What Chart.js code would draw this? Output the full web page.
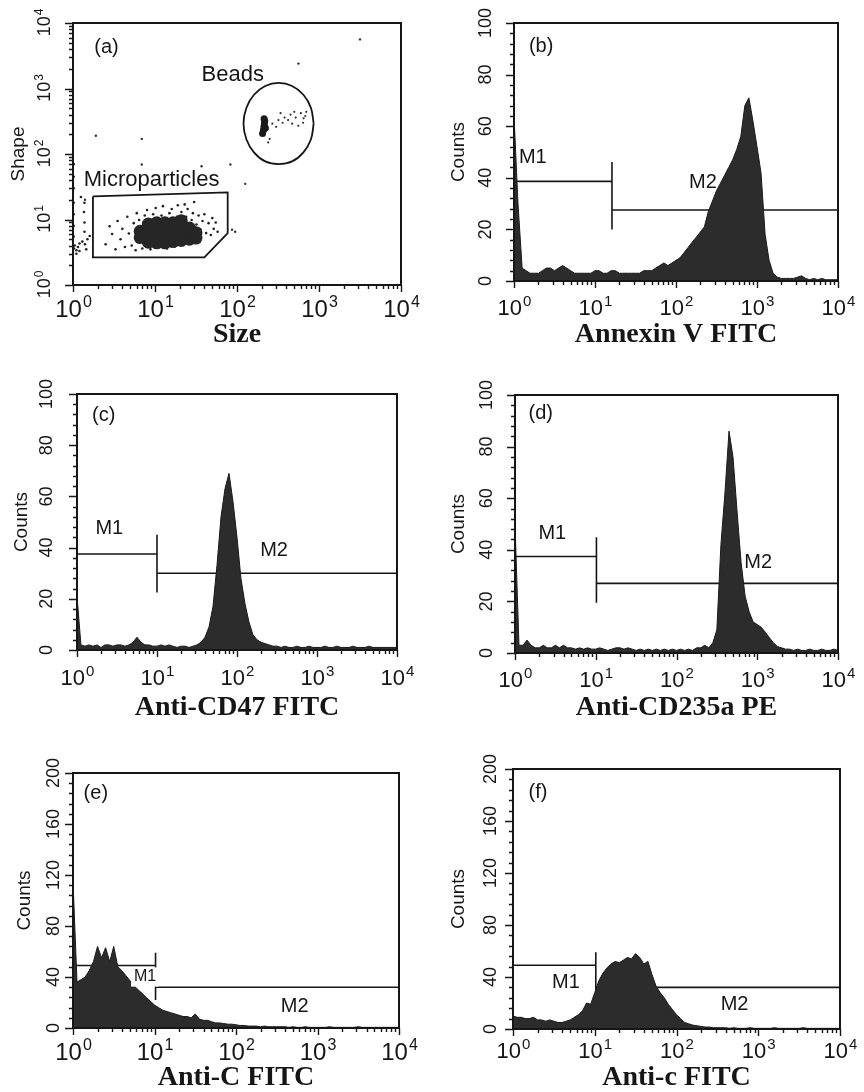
<!DOCTYPE html>
<html>
<head>
<meta charset="utf-8">
<script src="https://cdn.jsdelivr.net/npm/chart.js@4.4.1/dist/chart.umd.min.js"></script>
<style>
  html, body { margin: 0; padding: 0; background: #fff; }
  #fig { position: relative; width: 864px; height: 1092px; overflow: hidden; }
  #fig canvas { position: absolute; }
</style>
</head>
<body>
<div id="fig">
  <canvas id="pa"></canvas>
  <canvas id="pb"></canvas>
  <canvas id="pc"></canvas>
  <canvas id="pd"></canvas>
  <canvas id="pe"></canvas>
  <canvas id="pf"></canvas>
</div>
<script>
// channel positions (20 per decade) shared by all histograms
const channels = [
  1, 1.12, 1.26, 1.41, 1.58, 1.78, 2, 2.24, 2.51, 2.82, 3.16, 3.55, 3.98, 4.47, 5.01, 5.62, 6.31, 7.08, 7.94, 8.91,
  10, 11.2, 12.6, 14.1, 15.8, 17.8, 20, 22.4, 25.1, 28.2, 31.6, 35.5, 39.8, 44.7, 50.1, 56.2, 63.1, 70.8, 79.4, 89.1,
  100, 112, 126, 141, 158, 178, 200, 224, 251, 282, 316, 355, 398, 447, 501, 562, 631, 708, 794, 891,
  1000, 1120, 1260, 1410, 1580, 1780, 2000, 2240, 2510, 2820, 3160, 3550, 3980, 4470, 5010, 5620, 6310, 7080, 7940, 8910, 10000
];

// (b) Annexin V FITC
const countsB = [
  64, 30, 5, 4, 3, 3, 3, 4, 5, 5, 4, 5, 6, 5, 4, 3, 3, 3, 3, 3,
  4, 4, 3, 3, 4, 4, 3, 3, 3, 3, 3, 3, 4, 4, 4, 5, 6, 7, 6, 7,
  8, 9, 11, 13, 15, 17, 19, 21, 27, 31, 35, 38, 41, 44, 47, 51, 56, 68, 71, 62,
  52, 42, 18, 8, 3, 1.5, 1, 1, 1, 1, 1.5, 2, 1, 0.5, 1, 0.5, 1, 0.5, 0.5, 0.5, 0.5
];
// (c) Anti-CD47 FITC
const countsC = [
  21, 2, 1.5, 2, 1.5, 2, 1, 2, 2, 1.5, 2, 2, 1.5, 2, 3, 5, 3, 2, 2, 1.5,
  1.5, 2, 1.5, 2, 1.5, 1, 1.5, 1.5, 1, 1.5, 2, 3, 5, 9, 17, 33, 52, 63, 69, 58,
  44, 28, 18, 11, 6, 4, 3, 2.5, 2, 1.5, 1.5, 1, 1.5, 1, 1, 1.5, 1, 1, 1.5, 1,
  1, 1, 1.5, 1, 1, 1.5, 1, 1, 1, 1.5, 1, 1, 1, 1.5, 1, 1, 1, 1, 1, 1, 1
];
// (d) Anti-CD235a PE
const countsD = [
  50, 3, 3, 5, 3, 2, 2, 3, 2, 2, 3, 2, 3, 2, 2, 1.5, 2, 1.5, 2, 1.5,
  1.5, 2, 1.5, 1, 1.5, 2, 2, 1.5, 2, 1.5, 1, 1.5, 1, 1.5, 1, 1.5, 1, 1.5, 1, 1.5,
  1, 1.5, 1, 1.5, 1, 2, 2, 3, 2, 4, 9, 42, 62, 86, 76, 55, 35, 22, 16, 12,
  11, 10, 8, 6, 4, 2.5, 2, 1.5, 1.5, 1, 1.5, 1, 1, 1.5, 1, 1, 1.5, 1, 1, 1.5, 1
];
// (e) Anti-C FITC
const countsE = [
  115, 36, 38, 40, 45, 52, 64, 55, 63, 52, 64, 48, 45, 41, 37, 33, 30, 27, 24, 21,
  18, 16, 14, 13, 12, 11, 10, 9, 9, 8, 11, 7, 6, 6, 5, 4, 4, 3.5, 3, 3,
  2.5, 2, 2, 1.5, 1.5, 1.5, 1, 1.5, 1, 1, 1, 1, 1, 0.5, 1, 0.5, 0.5, 1, 0.5, 0.5,
  0.5, 0.5, 0.5, 1, 0.5, 0.5, 0.5, 0.5, 0.5, 0.5, 1, 0.5, 0.5, 0.5, 0.5, 0.5, 0.5, 0.5, 0.5, 0.5, 0.5
];
// (f) Anti-c FITC
const countsF = [
  10, 9, 9, 8, 8, 9, 7, 7, 6, 7, 6, 5, 5, 6, 7, 9, 11, 14, 20, 19,
  28, 37, 43, 47, 50, 52, 51, 53, 55, 54, 58, 55, 50, 52, 42, 33, 28, 24, 19, 15,
  11, 8, 5, 4, 3, 2.5, 2, 1.5, 1.5, 1, 1, 1, 1, 0.5, 1, 0.5, 0.5, 0.5, 1, 0.5,
  0.5, 0.5, 0.5, 0.5, 1, 0.5, 0.5, 0.5, 0.5, 0.5, 0.5, 1, 0.5, 0.5, 0.5, 0.5, 0.5, 0.5, 0.5, 0.5, 0.5
];

// marker regions: [from, to, level]
const markersB = [[1, 16.2, 38.6], [16.2, 10000, 27.5]];
const markersC = [[1, 10, 37.5], [10, 10000, 30]];
const markersD = [[1, 10.2, 37.4], [10.2, 10000, 27]];
const markersE = [[1, 10.3, 49], [10.3, 10000, 32]];
const markersF = [[1, 10.3, 49], [10.3, 10000, 32]];

// in-plot text: [text, x, y]
const notesA = [['(a)', 1.82, 4170], ['Beads', 37, 1620], ['Microparticles', 1.35, 40.7]];
const notesB = [['(b)', 1.53, 91], ['M1', 1.15, 48], ['M2', 145, 38]];
const notesC = [['(c)', 1.54, 91.5], ['M1', 1.7, 47.6], ['M2', 195, 39]];
const notesD = [['(d)', 1.47, 93], ['M1', 1.95, 46.5], ['M2', 692, 35]];
const notesE = [['(e)', 1.35, 184], ['M1', 5.6, 40], ['M2', 355, 16.5]];
const notesF = [['(f)', 1.55, 182], ['M1', 3.0, 36], ['M2', 347, 18.5]];

// axis ticks
const decadeTicks = [1, 10, 100, 1000, 10000];
const countTicks100 = [0, 20, 40, 60, 80, 100];
const countTicks200 = [0, 40, 80, 120, 160, 200];

// (a) size / shape dot plot
const mpCore = [
  [6.6, 5.3], [6.6, 6.6], [8.3, 4.5], [8.3, 5.6], [8.3, 7.1], [8.3, 8.5],
  [10.5, 4.4], [10.5, 5.6], [10.5, 7.1], [10.5, 8.9], [13.2, 4.4], [13.2, 5.6],
  [13.2, 7.1], [13.2, 8.9], [16.6, 4.6], [16.6, 5.6], [16.6, 7.1], [16.6, 8.9],
  [20.9, 4.8], [20.9, 6.0], [20.9, 7.6], [20.9, 9.6], [26.3, 5.0], [26.3, 6.3],
  [26.3, 7.4], [31.6, 5.2], [31.6, 6.3]
];
const mpSparse = [
  [2.5, 4.2], [2.8, 7.9], [3.0, 6.0], [3.3, 3.5], [3.5, 9.5], [3.8, 5.0], [4.0, 7.2], [4.3, 3.8],
  [4.6, 11], [4.8, 6.1], [5.2, 4.0], [5.5, 8.8], [5.8, 3.4], [6.0, 12.5], [6.4, 9.8], [7.0, 3.6],
  [7.5, 11.5], [8.0, 14], [8.8, 3.5], [9.5, 12], [10.2, 15], [11, 3.8], [12, 11.5], [12.5, 16],
  [14, 3.6], [15, 12.5], [16, 14.5], [17.5, 3.9], [18.5, 11], [19, 16.5], [21, 13], [22, 4.1],
  [23, 17], [24, 11], [25, 14.5], [27, 4.3], [28, 9.8], [29, 12.5], [30, 18.5], [32, 8.4],
  [34, 11.5], [35, 4.6], [36, 7.0], [38, 9.5], [40, 12], [42, 6.2], [45, 8.8], [48, 5.8],
  [50, 10.5], [52, 7.2], [55, 9], [58, 6.5]
];
const edgeEvents = [
  [1.0, 3.2], [1.03, 3.6], [1.05, 4.0], [1.1, 3.4], [1.15, 3.8], [1.2, 4.3], [1.3, 4.6], [1.4, 4.2],
  [1.5, 5.0], [1.6, 5.6], [1.45, 3.5], [1.1, 3.0], [1.2, 3.3], [1.02, 5.5], [1.02, 8], [1.02, 12],
  [1.02, 18], [1.02, 30], [1.02, 45], [1.02, 70], [1.38, 6.5], [1.38, 9], [1.36, 13], [1.38, 18], [1.25, 22]
];
const beadCore = [[205, 205], [210, 230], [213, 260], [216, 290], [218, 320], [214, 345], [222, 250]];
const beadSparse = [
  [240, 150], [250, 170], [270, 290], [300, 260], [320, 330], [340, 420], [360, 300], [380, 360],
  [420, 330], [450, 400], [470, 290], [500, 440], [520, 360], [560, 270], [600, 420], [640, 300],
  [650, 350], [680, 380], [700, 440]
];
const strayEvents = [
  [3162, 5623], [562, 2400], [1.9, 190], [6.9, 170], [6.9, 69], [37, 65], [83, 69], [126, 35],
  [87, 7], [95, 6.5], [1.4, 20]
];
const mpGate = [[1.75, 22.5], [77, 26], [77, 6.2], [40, 2.65], [1.75, 2.65], [1.75, 22.5]];
const beadGate = [
  [861, 291], [798, 504], [646, 802], [470, 1094], [322, 1219], [221, 1094], [161, 802], [130, 504],
  [120, 291], [130, 168], [161, 106], [221, 77], [322, 70], [470, 77], [646, 106], [798, 168], [861, 291]
];

const ink = '#161616';
const sans = '"Liberation Sans", Arial, Helvetica, sans-serif';
const serif = '"Liberation Serif", "Times New Roman", serif';

function logTicks(majors) {
  const out = [];
  majors.forEach((m, i) => {
    out.push({ value: m, major: true });
    if (i < majors.length - 1) {
      for (let k = 2; k <= 9; k++) out.push({ value: k * m, major: false });
    }
  });
  return out;
}

function linTicks(majors) {
  const out = [];
  majors.forEach((m, i) => {
    out.push({ value: m, major: true });
    if (i < majors.length - 1) {
      const step = (majors[i + 1] - m) / 5;
      for (let k = 1; k < 5; k++) out.push({ value: m + k * step, major: false });
    }
  });
  return out;
}

const toPoints = arr => arr.map(([x, y]) => ({ x, y }));

// horizontal gate line with end bars, gaps between pieces
function markerPath(markers, half) {
  const pts = [];
  markers.forEach(([from, to, level]) => {
    pts.push({ x: from, y: level - half }, { x: from, y: level + half }, { x: from, y: null },
             { x: from, y: level }, { x: to, y: level }, { x: to, y: null },
             { x: to, y: level - half }, { x: to, y: level + half }, { x: to, y: null });
  });
  return pts;
}

function drawPower(ctx, cx, base, exp, size) {
  const small = Math.round(size * 0.68);
  ctx.font = `${size}px ${sans}`;
  const w1 = ctx.measureText('10').width;
  ctx.font = `${small}px ${sans}`;
  const w2 = ctx.measureText(exp).width;
  const left = cx - (w1 + w2) / 2;
  ctx.textAlign = 'left';
  ctx.textBaseline = 'alphabetic';
  ctx.font = `${size}px ${sans}`;
  ctx.fillText('10', left, base);
  ctx.font = `${small}px ${sans}`;
  ctx.fillText(exp, left + w1 + 1, base - size * 0.42);
}

// plot frame, tick marks, tick labels and in-plot text
const flowFrame = {
  id: 'flowFrame',
  afterDatasetsDraw(chart, args, o) {
    const { ctx, chartArea: a } = chart;
    const xs = chart.scales.x, ys = chart.scales.y;
    ctx.save();
    ctx.strokeStyle = ink;
    ctx.fillStyle = ink;

    ctx.lineWidth = 1.4;
    ctx.beginPath();
    xs.ticks.forEach(t => {
      const px = Math.round(xs.getPixelForValue(t.value)) + 0.5;
      ctx.moveTo(px, a.bottom);
      ctx.lineTo(px, a.bottom + (t.major ? 7 : 4));
    });
    ys.ticks.forEach(t => {
      const py = Math.round(ys.getPixelForValue(t.value)) + 0.5;
      ctx.moveTo(a.left, py);
      ctx.lineTo(a.left - (t.major ? 8 : 4), py);
    });
    ctx.stroke();

    ctx.lineWidth = 2;
    ctx.strokeRect(a.left, a.top, a.right - a.left, a.bottom - a.top);

    xs.ticks.filter(t => t.major).forEach(t => {
      drawPower(ctx, xs.getPixelForValue(t.value), a.bottom + o.xDrop,
                String(Math.round(Math.log10(t.value))), o.xSize);
    });

    ys.ticks.filter(t => t.major).forEach(t => {
      ctx.save();
      ctx.translate(a.left - o.yGap, ys.getPixelForValue(t.value));
      ctx.rotate(-Math.PI / 2);
      if (o.yLog) {
        drawPower(ctx, 0, o.ySize * 0.36, String(Math.round(Math.log10(t.value))), o.ySize);
      } else {
        ctx.font = `${o.ySize}px ${sans}`;
        ctx.textAlign = 'center';
        ctx.textBaseline = 'middle';
        ctx.fillText(String(t.value), 0, 0);
      }
      ctx.restore();
    });

    o.notes.forEach(([text, x, y]) => {
      const st = (o.noteStyle && o.noteStyle[text]) || {};
      const size = st.size || o.noteSize;
      const px = xs.getPixelForValue(x), py = ys.getPixelForValue(y);
      ctx.font = `${size}px ${sans}`;
      ctx.textAlign = 'left';
      ctx.textBaseline = 'middle';
      if (st.boxed) {
        const w = ctx.measureText(text).width;
        ctx.fillStyle = '#fff';
        ctx.fillRect(px - 3, py - size * 0.6, w + 5, size * 1.2);
        ctx.fillStyle = ink;
      }
      ctx.fillText(text, px, py);
    });
    ctx.restore();
  }
};

function baseOptions(p, yScale) {
  const [cl, ct, cw, ch] = p.canvas;
  const [pl, pt, pr, pb] = p.plot;
  return {
    responsive: false,
    animation: false,
    events: [],
    layout: { padding: { top: pt - ct, right: cl + cw - pr, bottom: 0, left: 0 }, autoPadding: false },
    plugins: {
      legend: { display: false },
      tooltip: { enabled: false },
      flowFrame: {
        xDrop: p.xDrop, xSize: p.xSize, yGap: p.yGap, ySize: p.ySize, yLog: p.yLog,
        notes: p.notes, noteSize: p.noteSize, noteStyle: p.noteStyle
      }
    },
    scales: {
      x: {
        type: 'logarithmic', min: 1, max: 10000,
        afterBuildTicks: s => { s.ticks = logTicks(decadeTicks); },
        afterFit: s => { s.height = ct + ch - pb; },
        grid: { display: false }, border: { display: false }, ticks: { display: false },
        title: {
          display: true, text: p.xTitle, color: ink,
          font: { family: serif, weight: 'bold', size: 28, lineHeight: 1 },
          padding: { top: 0, bottom: p.xTitlePad }
        }
      },
      y: Object.assign({}, yScale, {
        afterFit: s => { s.width = pl - cl; },
        grid: { display: false }, border: { display: false }, ticks: { display: false },
        title: {
          display: true, text: p.yTitle, color: ink,
          font: { family: sans, size: 19, lineHeight: 1 },
          padding: { top: p.yTitlePad, bottom: 0 }
        }
      })
    }
  };
}

function placeCanvas(p) {
  const el = document.getElementById(p.id);
  const [cl, ct, cw, ch] = p.canvas;
  el.width = cw;
  el.height = ch;
  el.style.left = cl + 'px';
  el.style.top = ct + 'px';
  return el;
}

function histChart(p) {
  const el = placeCanvas(p);
  const top = p.yTicks[p.yTicks.length - 1];
  return new Chart(el, {
    type: 'line',
    data: {
      datasets: [
        {
          data: channels.map((c, i) => ({ x: c, y: p.counts[i] })),
          fill: 'origin',
          backgroundColor: '#2c2c2c',
          borderColor: '#1a1a1a',
          borderWidth: 1,
          pointRadius: 0,
          tension: 0
        },
        {
          data: markerPath(p.markers, p.half),
          borderColor: ink,
          borderWidth: 1.6,
          pointRadius: 0,
          fill: false,
          spanGaps: false,
          tension: 0
        }
      ]
    },
    options: baseOptions(p, {
      type: 'linear', min: 0, max: top,
      afterBuildTicks: s => { s.ticks = linTicks(p.yTicks); }
    }),
    plugins: [flowFrame]
  });
}

// (a) dot plot
const pA = {
  id: 'pa', canvas: [0, 0, 432, 360], plot: [73, 23, 401, 285],
  xTitle: 'Size', xTitlePad: 11, yTitle: 'Shape', yTitlePad: 9.5,
  xSize: 24, xDrop: 32, ySize: 18, yGap: 29, yLog: true,
  notes: notesA, noteSize: 22, noteStyle: { '(a)': { size: 20 } }
};
const dots = (arr, r, color) => ({
  data: toPoints(arr), pointRadius: r, pointBackgroundColor: color,
  pointBorderWidth: 0, showLine: false
});
const gate = (arr, tension) => ({
  data: toPoints(arr), showLine: true, borderColor: ink, borderWidth: 1.8,
  pointRadius: 0, fill: false, tension
});
new Chart(placeCanvas(pA), {
  type: 'scatter',
  data: {
    datasets: [
      dots(mpCore, 6.5, '#262626'),
      dots(mpSparse, 1.3, '#222'),
      dots(edgeEvents, 1.3, '#222'),
      dots(beadCore, 3.5, '#1a1a1a'),
      dots(beadSparse, 1.1, '#333'),
      dots(strayEvents, 1.2, '#333'),
      gate(mpGate, 0),
      gate(beadGate, 0.4)
    ]
  },
  options: baseOptions(pA, {
    type: 'logarithmic', min: 1, max: 10000,
    afterBuildTicks: s => { s.ticks = logTicks(decadeTicks); }
  }),
  plugins: [flowFrame]
});

histChart({
  id: 'pb', canvas: [432, 0, 432, 360], plot: [514, 23, 838, 281],
  counts: countsB, markers: markersB, half: 7.5, yTicks: countTicks100,
  xTitle: 'Annexin V FITC', xTitlePad: 11, yTitle: 'Counts', yTitlePad: 17.5,
  xSize: 22, xDrop: 34, ySize: 18, yGap: 28, notes: notesB, noteSize: 20
});
histChart({
  id: 'pc', canvas: [0, 360, 432, 375], plot: [77, 394, 397, 650],
  counts: countsC, markers: markersC, half: 7.5, yTicks: countTicks100,
  xTitle: 'Anti-CD47 FITC', xTitlePad: 13, yTitle: 'Counts', yTitlePad: 12.5,
  xSize: 22, xDrop: 35, ySize: 18, yGap: 29.5, notes: notesC, noteSize: 20
});
histChart({
  id: 'pd', canvas: [432, 360, 432, 375], plot: [515, 395, 838, 653],
  counts: countsD, markers: markersD, half: 7.5, yTicks: countTicks100,
  xTitle: 'Anti-CD235a PE', xTitlePad: 13, yTitle: 'Counts', yTitlePad: 17.5,
  xSize: 22, xDrop: 34, ySize: 18, yGap: 28, notes: notesD, noteSize: 20
});
histChart({
  id: 'pe', canvas: [0, 730, 432, 362], plot: [73, 773, 399, 1028],
  counts: countsE, markers: markersE, half: 10, yTicks: countTicks200,
  xTitle: 'Anti-C FITC', xTitlePad: 0, yTitle: 'Counts', yTitlePad: 15.5,
  xSize: 24, xDrop: 32, ySize: 18, yGap: 19, notes: notesE, noteSize: 20,
  noteStyle: { M1: { size: 16, boxed: true } }
});
histChart({
  id: 'pf', canvas: [432, 730, 432, 362], plot: [513, 769, 840, 1029],
  counts: countsF, markers: markersF, half: 10, yTicks: countTicks200,
  xTitle: 'Anti-c FITC', xTitlePad: 0, yTitle: 'Counts', yTitlePad: 17.5,
  xSize: 22, xDrop: 29, ySize: 18, yGap: 22, notes: notesF, noteSize: 20
});
</script>
</body>
</html>
